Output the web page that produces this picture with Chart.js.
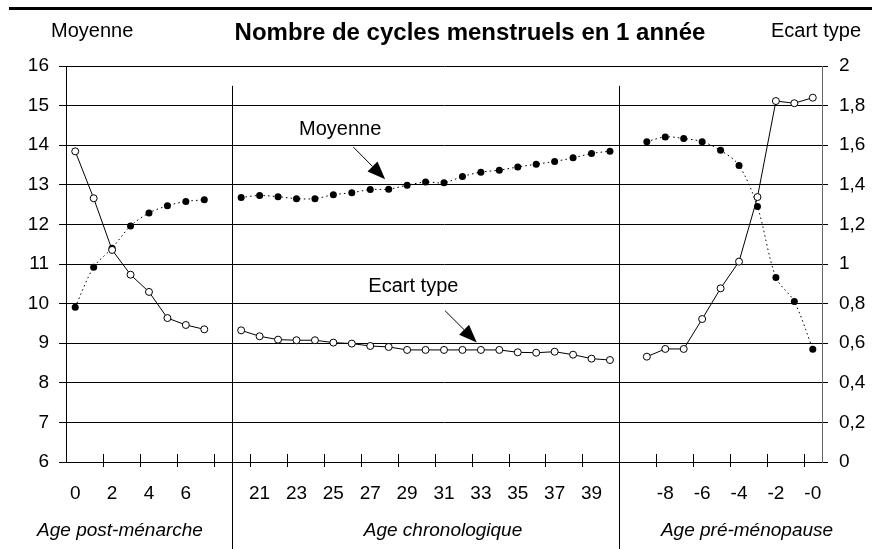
<!DOCTYPE html>
<html lang="fr">
<head>
<meta charset="utf-8">
<title>Nombre de cycles menstruels en 1 année</title>
<script src="https://cdn.jsdelivr.net/npm/chart.js@4/dist/chart.umd.min.js"></script>
<style>
  html, body { margin: 0; padding: 0; background: #fff; }
  #wrap { position: relative; width: 872px; height: 549px; }
</style>
</head>
<body>
<div id="wrap"><canvas id="chart"></canvas></div>
<script>
// ages on each of the three sections of the x axis
const postLabels = ['0', '1', '2', '3', '4', '5', '6', '7'];
const chronoLabels = ['20', '21', '22', '23', '24', '25', '26', '27', '28', '29', '30',
                      '31', '32', '33', '34', '35', '36', '37', '38', '39', '40'];
const preLabels = ['-9', '-8', '-7', '-6', '-5', '-4', '-3', '-2', '-1', '-0'];

// mean number of cycles (left axis)
const moyPost = [9.91, 10.92, 11.4, 11.96, 12.29, 12.47, 12.58, 12.62];
const moyChrono = [12.68, 12.73, 12.70, 12.65, 12.65, 12.75, 12.80, 12.88, 12.89, 12.99, 13.07,
                   13.05, 13.21, 13.32, 13.37, 13.45, 13.52, 13.59, 13.68, 13.79, 13.85];
const moyPre = [14.09, 14.21, 14.17, 14.09, 13.87, 13.49, 12.45, 10.66, 10.05, 8.85];

// standard deviation (right axis)
const ectPost = [1.569, 1.332, 1.071, 0.946, 0.859, 0.727, 0.692, 0.670];
const ectChrono = [0.665, 0.635, 0.618, 0.615, 0.615, 0.603, 0.598, 0.586, 0.581, 0.566, 0.566,
                   0.566, 0.566, 0.566, 0.566, 0.554, 0.552, 0.557, 0.542, 0.522, 0.515];
const ectPre = [0.532, 0.571, 0.571, 0.722, 0.877, 1.012, 1.338, 1.823, 1.812, 1.840];

const sectionNames = ['Age post-ménarche', 'Age chronologique', 'Age pré-ménopause'];

// one empty category between sections keeps the lines apart
const categories = [...postLabels, '', ...chronoLabels, '', ...preLabels];
const moyenne = [...moyPost, null, ...moyChrono, null, ...moyPre];
const ecart = [...ectPost, null, ...ectChrono, null, ...ectPre];

// category boundaries where the section separators go
const dividers = [postLabels.length + 1, postLabels.length + 1 + chronoLabels.length];

// arrow notes, positioned in axis units (category index, left-axis value)
const notes = [
  { text: 'Moyenne', at: [14.37, 14.26], from: [15.09, 13.95], to: [16.81, 13.14] },
  { text: 'Ecart type', at: [18.34, 10.29], from: [20.06, 9.82], to: [21.78, 9.02] }
];

const FONT = '"Liberation Sans", Arial, Helvetica, sans-serif';

const decor = {
  id: 'decor',
  afterDraw(chart) {
    const { ctx, chartArea: a, scales: { x, y } } = chart;
    const half = (x.getPixelForValue(1) - x.getPixelForValue(0)) / 2;
    const edge = i => Math.round(x.getPixelForValue(i) - half) + 0.5;

    ctx.save();
    ctx.fillStyle = '#000';
    ctx.strokeStyle = '#000';
    ctx.lineWidth = 1;

    // heavy rule along the top
    ctx.fillRect(9, 7, chart.width - 9, 3);

    // title and axis captions
    ctx.textBaseline = 'alphabetic';
    ctx.font = 'bold 24px ' + FONT;
    ctx.textAlign = 'center';
    ctx.fillText('Nombre de cycles menstruels en 1 année', 470, 40);
    ctx.font = '20px ' + FONT;
    ctx.textAlign = 'left';
    ctx.fillText('Moyenne', 51, 37);
    ctx.textAlign = 'right';
    ctx.fillText('Ecart type', 861, 37);

    // x tick marks every two categories, crossing the axis
    ctx.beginPath();
    for (let i = 2; i < categories.length; i += 2) {
      ctx.moveTo(edge(i), a.bottom - 8);
      ctx.lineTo(edge(i), a.bottom + 5);
    }
    // section separators
    const top = y.getPixelForValue(15.5);
    dividers.forEach(i => {
      ctx.moveTo(edge(i), top);
      ctx.lineTo(edge(i), chart.height);
    });
    ctx.stroke();

    // section names under the tick labels
    ctx.font = 'italic 19px ' + FONT;
    ctx.textAlign = 'center';
    [120, 443, 747].forEach((cx, k) => ctx.fillText(sectionNames[k], cx, 536));

    // notes with arrows
    ctx.font = '20px ' + FONT;
    notes.forEach(n => {
      ctx.fillText(n.text, x.getPixelForValue(n.at[0]), y.getPixelForValue(n.at[1]));
      const x0 = x.getPixelForValue(n.from[0]), y0 = y.getPixelForValue(n.from[1]);
      const x1 = x.getPixelForValue(n.to[0]), y1 = y.getPixelForValue(n.to[1]);
      const ang = Math.atan2(y1 - y0, x1 - x0);
      const len = 18, w = 7;
      const bx = x1 - len * Math.cos(ang), by = y1 - len * Math.sin(ang);
      ctx.beginPath();
      ctx.moveTo(x0, y0);
      ctx.lineTo(bx, by);
      ctx.stroke();
      ctx.beginPath();
      ctx.moveTo(x1, y1);
      ctx.lineTo(bx + w * Math.sin(ang), by - w * Math.cos(ang));
      ctx.lineTo(bx - w * Math.sin(ang), by + w * Math.cos(ang));
      ctx.closePath();
      ctx.fill();
    });
    ctx.restore();
  }
};

new Chart(document.getElementById('chart'), {
  type: 'line',
  data: {
    labels: categories,
    datasets: [
      {
        label: 'Ecart type',
        data: ecart,
        yAxisID: 'y1',
        borderColor: '#000',
        borderWidth: 1,
        tension: 0,
        pointRadius: 3.5,
        pointBackgroundColor: '#fff',
        pointBorderColor: '#000',
        pointBorderWidth: 1,
        spanGaps: false
      },
      {
        label: 'Moyenne',
        data: moyenne,
        yAxisID: 'y',
        borderColor: '#000',
        borderWidth: 1,
        borderDash: [1.5, 3],
        tension: 0.3,
        pointRadius: 3.5,
        pointBackgroundColor: '#000',
        pointBorderWidth: 0,
        spanGaps: false
      }
    ]
  },
  options: {
    responsive: true,
    maintainAspectRatio: false,
    animation: false,
    layout: { padding: { top: 66, left: 0, right: 0, bottom: 0 } },
    plugins: {
      legend: { display: false },
      tooltip: { enabled: false },
      title: { display: false }
    },
    scales: {
      x: {
        type: 'category',
        offset: true,
        grid: { display: false, drawTicks: false },
        border: { display: true, color: '#000', width: 1 },
        ticks: {
          autoSkip: false,
          maxRotation: 0,
          padding: 20,
          color: '#000',
          font: { family: FONT, size: 19 },
          callback: function (val, i) {
            return i % 2 === 0 ? this.getLabelForValue(val) : '';
          }
        },
        afterFit: s => { s.height = 87; }
      },
      y: {
        position: 'left',
        min: 6,
        max: 16,
        grid: { color: '#000', lineWidth: 1, tickLength: 7 },
        border: { color: '#000', width: 1 },
        ticks: {
          stepSize: 1,
          padding: 10,
          color: '#000',
          font: { family: FONT, size: 19 }
        },
        afterFit: s => { s.width = 66; }
      },
      y1: {
        position: 'right',
        min: 0,
        max: 2,
        grid: { drawOnChartArea: false, color: '#000', tickLength: 6 },
        border: { color: '#666', width: 1 },
        ticks: {
          stepSize: 0.2,
          padding: 11,
          color: '#000',
          font: { family: FONT, size: 19 },
          callback: v => String(Math.round(v * 10) / 10).replace('.', ',')
        },
        afterFit: s => { s.width = 50; }
      }
    }
  },
  plugins: [decor]
});
</script>
</body>
</html>
